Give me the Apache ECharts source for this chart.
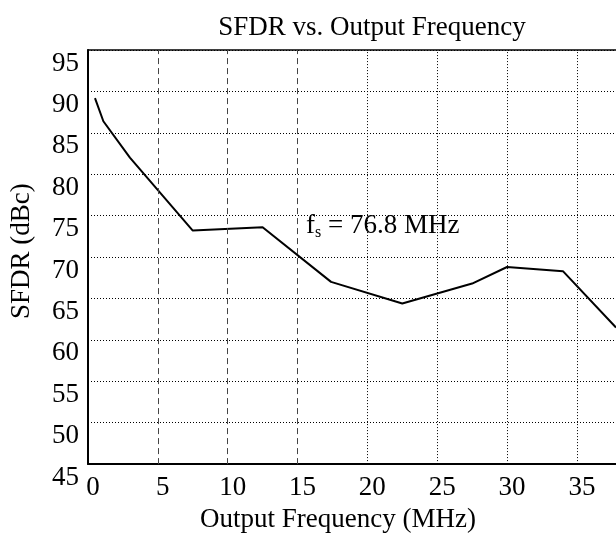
<!DOCTYPE html>
<head>
    <meta charset="utf-8">
    <script type="text/javascript" src="https://cdn.jsdelivr.net/npm/echarts@6/dist/echarts.min.js"></script>
</head>
<body style="margin:0">
	<div id="main" style="width:616px; height:538px"></div>
	<script type="text/javascript">
		// SFDR measured at fs = 76.8 MHz
		var freq = [0.5, 1.1, 3.0, 7.5, 12.5, 17.4, 22.5, 27.5, 30.0, 34.0, 37.8];
		var sfdr = [89.2, 86.4, 82.0, 73.2, 73.6, 67.0, 64.4, 66.8, 68.8, 68.3, 61.5];
		var dashedX = [5, 10, 15];
		var dottedX = [20, 25, 30, 35];

		var points = [];
		for (var i = 0; i < freq.length; i++) {
			points.push([freq[i], sfdr[i]]);
		}
		var vlines = [];
		for (var i = 0; i < dashedX.length; i++) {
			vlines.push({xAxis: dashedX[i], lineStyle: {type: [6, 4], color: '#444', width: 1}});
		}
		for (var i = 0; i < dottedX.length; i++) {
			vlines.push({xAxis: dottedX[i], lineStyle: {type: [1, 2], color: '#000', width: 1}});
		}

		var font = 'Liberation Serif';
		var fs = 27;
		var myChart = echarts.init(document.getElementById('main'));
		var option = {
			animation: false,
			backgroundColor: '#fff',
			textStyle: {fontFamily: font},
			title: {
				text: 'SFDR vs. Output Frequency',
				left: 367, top: 9, textAlign: 'center',
				textStyle: {fontFamily: font, fontSize: fs, fontWeight: 'normal', color: '#000'}
			},
			grid: {left: 87, right: 0, top: 50, bottom: 70},
			xAxis: [{
				type: 'value', min: 0, max: 37.8, interval: 5,
				axisLine: {lineStyle: {color: '#000', width: 2}},
				axisTick: {show: false},
				splitLine: {show: false},
				axisLabel: {color: '#000', fontSize: fs, fontFamily: font, margin: 10,
					showMaxLabel: false, padding: [0, 0, 0, 10]},
				name: 'Output Frequency (MHz)', nameLocation: 'middle', nameGap: 36,
				nameTextStyle: {color: '#000', fontSize: fs, fontFamily: font, padding: [0, 28, 0, 0]}
			}, {
				type: 'value', min: 0, max: 37.8, position: 'top',
				axisLine: {show: true, onZero: false, lineStyle: {color: '#000', width: 1.5}},
				axisTick: {show: false}, axisLabel: {show: false}, splitLine: {show: false}
			}],
			yAxis: {
				type: 'value', min: 45, max: 95, interval: 5,
				axisLine: {show: true, lineStyle: {color: '#000', width: 2}},
				axisTick: {show: false},
				splitLine: {lineStyle: {type: [1, 2], color: '#000', width: 1}},
				axisLabel: {color: '#000', fontSize: fs, fontFamily: font, margin: 9, verticalAlign: 'top'},
				name: 'SFDR (dBc)', nameLocation: 'middle', nameGap: 53, nameRotate: 90,
				nameTextStyle: {color: '#000', fontSize: fs, fontFamily: font, padding: [0, 0, 0, 12]}
			},
			graphic: [{
				type: 'text', left: 306, top: 212,
				style: {
					text: '{f|f}{s|s}{f| = 76.8 MHz}',
					rich: {
						f: {fontFamily: font, fontSize: fs, fill: '#000'},
						s: {fontFamily: font, fontSize: 16, fill: '#000', padding: [14, 0, 0, 0]}
					}
				}
			}],
			series: [{
				type: 'line',
				data: points,
				showSymbol: false,
				lineStyle: {color: '#000', width: 2},
				markLine: {
					silent: true, symbol: 'none', label: {show: false},
					data: vlines
				}
			}]
		};
		myChart.setOption(option);
	</script>
</body>
